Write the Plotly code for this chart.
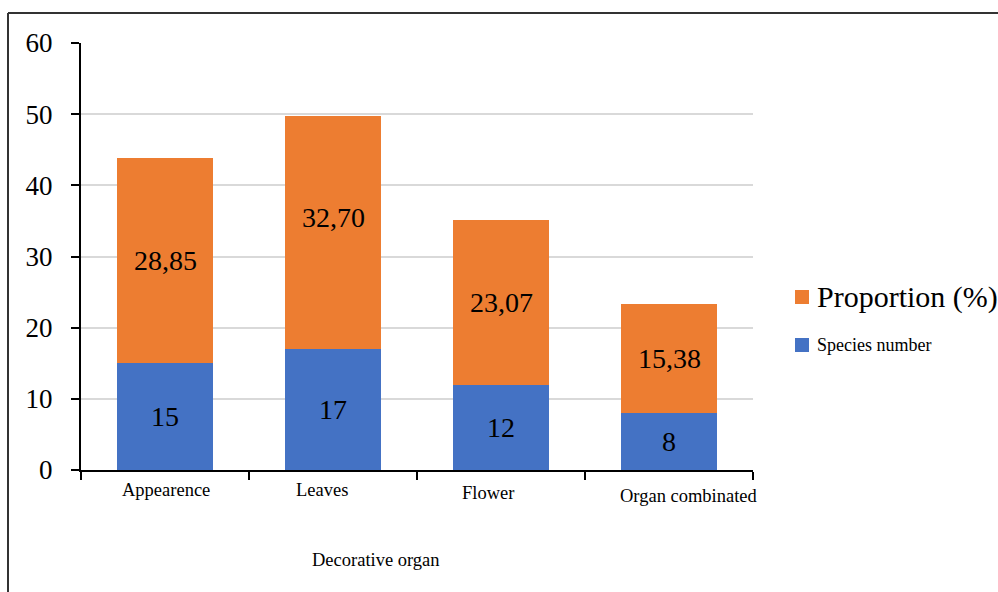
import plotly.graph_objects as go

categories = ["Appearence", "Leaves", "Flower", "Organ combinated"]
species_number = [15, 17, 12, 8]
proportion = [28.85, 32.70, 23.07, 15.38]
y_ticks = [0, 10, 20, 30, 40, 50, 60]
series_names = ["Species number", "Proportion (%)"]

FONT = "Liberation Serif"
BLUE = "#4472c4"
ORANGE = "#ed7d31"

# plot-area geometry in pixels (for placing paper-referenced items)
L, R, T, B = 81, 753, 43, 470
def px(x):
    return (x - L) / (R - L)
def py(y):
    return (B - y) / (B - T)

def fmt(v):
    if float(v).is_integer():
        return str(int(v))
    return f"{v:.2f}".replace(".", ",")

fig = go.Figure()
fig.add_trace(go.Bar(
    x=categories, y=species_number, name=series_names[0],
    marker=dict(color=BLUE, line=dict(width=0)),
))
fig.add_trace(go.Bar(
    x=categories, y=proportion, name=series_names[1],
    marker=dict(color=ORANGE, line=dict(width=0)),
))

# segment labels
orange_dy = {"Leaves": 15}
for c, s, p in zip(categories, species_number, proportion):
    fig.add_annotation(x=c, y=s / 2, xref="x", yref="y", text=fmt(s), showarrow=False,
                       font=dict(family=FONT, size=28, color="black"))
    fig.add_annotation(x=c, y=s + p / 2, xref="x", yref="y", text=fmt(p), showarrow=False,
                       yshift=orange_dy.get(c, 0),
                       font=dict(family=FONT, size=28, color="black"))

# category labels (slightly offset like the original)
label_shift = {"Appearence": 1, "Leaves": -11, "Flower": -13, "Organ combinated": 20}
label_dy = {"Appearence": 0, "Leaves": 0, "Flower": -3, "Organ combinated": -6}
for c in categories:
    fig.add_annotation(x=c, y=0, xref="x", yref="y", text=c, showarrow=False,
                       yanchor="top", xshift=label_shift[c], yshift=-8 + label_dy[c],
                       font=dict(family=FONT, size=18.5, color="black"))

fig.add_annotation(xref="paper", yref="paper", x=px(376), y=py(572),
                   text="Decorative organ", showarrow=False,
                   font=dict(family=FONT, size=18.5, color="black"))

# legend (drawn by hand to mimic the mixed font sizes of the original)
legend_items = [(series_names[1], ORANGE, 297, 30), (series_names[0], BLUE, 345, 18)]
for name, color, yc, fs in legend_items:
    fig.add_shape(type="rect", xref="paper", yref="paper",
                  x0=px(795), x1=px(809), y0=py(yc - 7), y1=py(yc + 7),
                  fillcolor=color, line=dict(width=0))
    fig.add_annotation(xref="paper", yref="paper", x=px(815), y=py(yc),
                       xanchor="left", yanchor="middle", text=name, showarrow=False,
                       font=dict(family=FONT, size=fs, color="black"))

# outer frame (cropped)
fig.add_shape(type="line", xref="paper", yref="paper",
              x0=px(8), x1=px(998), y0=py(13), y1=py(13),
              line=dict(color="#333333", width=2))
fig.add_shape(type="line", xref="paper", yref="paper",
              x0=px(8), x1=px(8), y0=py(13), y1=py(600),
              line=dict(color="#333333", width=2))

fig.update_layout(
    barmode="stack", bargap=0.43,
    width=998, height=592,
    margin=dict(l=L, r=998 - R, t=T, b=592 - B),
    paper_bgcolor="white", plot_bgcolor="white",
    font=dict(family=FONT, color="black"),
    showlegend=False,
    xaxis=dict(showticklabels=False, showline=True, linecolor="black", linewidth=2,
               ticks="outside", ticklen=8, tickwidth=2, tickcolor="black",
               tickson="boundaries", showgrid=False, range=[-0.5, 3.5]),
    yaxis=dict(range=[0, 60], tickvals=y_ticks, showline=True, linecolor="black",
               linewidth=2, ticks="outside", ticklen=8, tickwidth=2, tickcolor="black",
               ticklabelstandoff=13,
               showgrid=True, gridcolor="#d9d9d9", gridwidth=2,
               tickfont=dict(family=FONT, size=27, color="black"), zeroline=False),
)

fig.write_html("out.html")
